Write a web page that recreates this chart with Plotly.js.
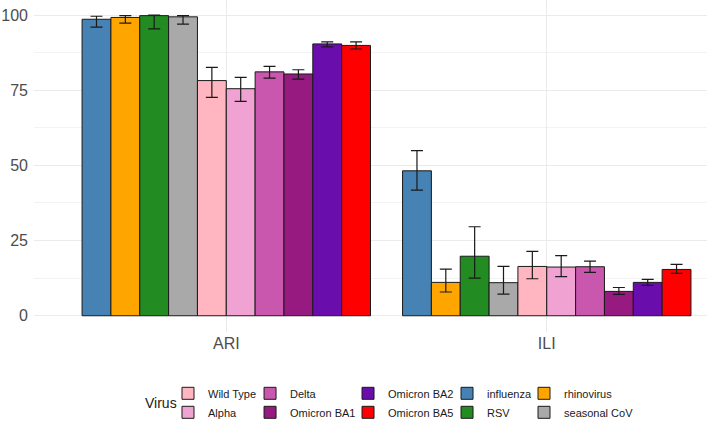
<!DOCTYPE html>
<html><head><meta charset="utf-8">
<script src="https://cdn.plot.ly/plotly-3.0.1.min.js"></script>
<style>html,body{margin:0;padding:0;background:#fff}#chart{width:707px;height:422px}</style>
</head><body><div id="chart"></div>
<script>
const categories = ['ARI', 'ILI'];
const viruses = ['influenza', 'rhinovirus', 'RSV', 'seasonal CoV', 'Wild Type', 'Alpha', 'Delta', 'Omicron BA1', 'Omicron BA2', 'Omicron BA5'];
const ariValues = [98.6, 99.2, 99.8, 99.4, 78.2, 75.5, 81.1, 80.4, 90.4, 89.9];
const ariUpper  = [99.6, 99.8, 100.0, 99.8, 82.6, 79.3, 82.9, 81.8, 91.1, 91.1];
const ariLower  = [96.0, 97.3, 95.4, 97.0, 72.6, 71.3, 79.0, 78.7, 89.4, 88.7];
const iliValues = [48.2, 11.1, 19.8, 11.0, 16.4, 16.2, 16.3, 8.1, 11.1, 15.4];
const iliUpper  = [54.9, 15.5, 29.6, 16.4, 21.4, 20.0, 18.2, 9.4, 12.1, 17.1];
const iliLower  = [41.8, 7.9, 12.5, 7.2, 12.3, 13.0, 14.4, 7.1, 10.1, 14.1];

const colors = ['#4682B4', '#FFA500', '#228B22', '#A9A9A9', '#FFB6C1', '#F0A3D3', '#C957AE', '#961A80', '#6A0DAD', '#FF0000'];
// legend column for each virus (layout only)
const legendSlot = ['legend4', 'legend5', 'legend4', 'legend5', 'legend', 'legend', 'legend2', 'legend2', 'legend3', 'legend3'];

const traces = viruses.map((v, i) => {
  const vals = [ariValues[i], iliValues[i]];
  const up = [ariUpper[i], iliUpper[i]];
  const lo = [ariLower[i], iliLower[i]];
  return {
    type: 'bar',
    name: v,
    x: categories,
    y: vals,
    legend: legendSlot[i],
    marker: {color: colors[i], line: {color: '#1a1a1a', width: 1}},
    error_y: {
      type: 'data', symmetric: false,
      array: up.map((u, k) => u - vals[k]),
      arrayminus: lo.map((l, k) => vals[k] - l),
      color: '#1a1a1a', thickness: 1.2, width: 6
    },
    hovertemplate: '%{x} – ' + v + ': %{y}<extra></extra>'
  };
});

const legendFont = {family: 'Liberation Sans, Arial, sans-serif', size: 11, color: '#1a1a1a'};
const legendXs = [0.1991, 0.3210, 0.4666, 0.6137, 0.7281];
const legendBase = {orientation: 'v', xanchor: 'left', yanchor: 'top', y: -0.141, font: legendFont, bgcolor: 'rgba(0,0,0,0)', borderwidth: 0, tracegroupgap: 0};
const layout = {
  width: 707, height: 422,
  margin: {l: 34, r: 0, t: 0, b: 90, autoexpand: false},
  paper_bgcolor: '#fff', plot_bgcolor: '#fff',
  font: {family: 'Liberation Sans, Arial, sans-serif'},
  barmode: 'group', bargap: 0.1, bargroupgap: 0,
  xaxis: {
    type: 'category', range: [-0.6, 1.5],
    showgrid: true, gridcolor: '#EBEBEB', gridwidth: 1,
    zeroline: false, showline: false, ticks: '',
    tickfont: {size: 16, color: '#4D4D4D'}
  },
  yaxis: {
    range: [-5.4, 105], tickvals: [0, 25, 50, 75, 100],
    showgrid: true, gridcolor: '#EBEBEB', gridwidth: 1,
    minor: {tickvals: [12.5, 37.5, 62.5, 87.5], showgrid: true, gridcolor: '#F3F3F3', gridwidth: 1},
    zeroline: false, showline: false, ticks: '', ticklabelstandoff: 5,
    tickfont: {size: 16, color: '#4D4D4D'}
  },
  showlegend: true,
  legend:  Object.assign({}, legendBase, {x: legendXs[0]}),
  legend2: Object.assign({}, legendBase, {x: legendXs[1]}),
  legend3: Object.assign({}, legendBase, {x: legendXs[2]}),
  legend4: Object.assign({}, legendBase, {x: legendXs[3]}),
  legend5: Object.assign({}, legendBase, {x: legendXs[4]}),
  annotations: [{
    text: 'Virus', xref: 'paper', yref: 'paper', x: 0.162, y: -0.2139,
    xanchor: 'left', yanchor: 'middle', showarrow: false,
    font: {size: 14, color: '#1a1a1a'}
  }]
};
Plotly.newPlot('chart', traces, layout, {displayModeBar: false, staticPlot: true});
</script></body></html>
